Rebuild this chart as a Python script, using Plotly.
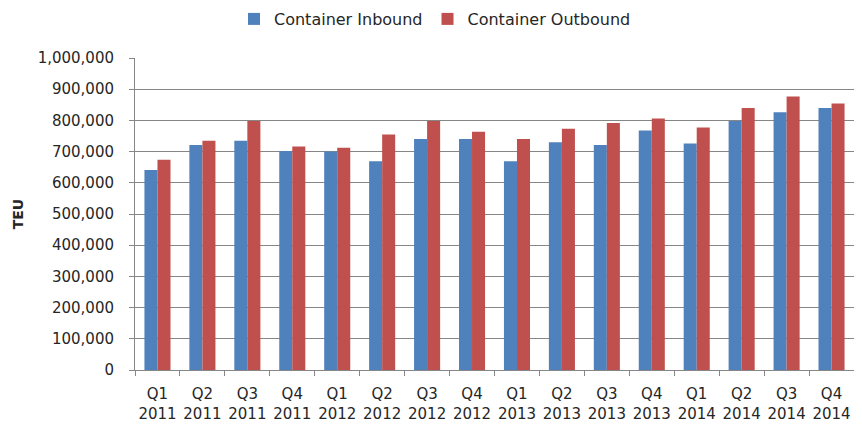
import plotly.graph_objects as go

quarters = ['Q1<br>2011', 'Q2<br>2011', 'Q3<br>2011', 'Q4<br>2011',
            'Q1<br>2012', 'Q2<br>2012', 'Q3<br>2012', 'Q4<br>2012',
            'Q1<br>2013', 'Q2<br>2013', 'Q3<br>2013', 'Q4<br>2013',
            'Q1<br>2014', 'Q2<br>2014', 'Q3<br>2014', 'Q4<br>2014']

inbound = [641000, 721000, 735000, 702000,
           700000, 669000, 740000, 740000,
           669000, 730000, 721000, 768000,
           726000, 798000, 826000, 840000]

outbound = [674000, 735000, 798000, 716000,
            712000, 755000, 798000, 764000,
            740000, 773000, 792000, 806000,
            777000, 840000, 877000, 854000]

y_ticks = list(range(0, 1000001, 100000))

fig = go.Figure()

fig.add_trace(go.Bar(
    x=quarters, y=inbound,
    name='Container Inbound',
    marker=dict(color='#4F81BD', line=dict(width=0))
))

fig.add_trace(go.Bar(
    x=quarters, y=outbound,
    name='Container Outbound',
    marker=dict(color='#C0504D', line=dict(width=0))
))

# page body has an 8px margin, so the figure is a bit smaller than the window
fig.update_layout(
    width=854, height=420,
    margin=dict(l=127, r=8, t=50, b=58, autoexpand=False),
    paper_bgcolor='white',
    plot_bgcolor='white',
    font=dict(family='DejaVu Sans', size=15, color='#262626'),
    barmode='group',
    bargap=0.42,
    bargroupgap=0,
    showlegend=True,
    legend=dict(
        orientation='h', xref='container', x=0.5, xanchor='center',
        y=1.125, yanchor='middle',
        font=dict(size=16),
        itemwidth=30,
    ),
    xaxis=dict(
        automargin=False,
        tickangle=0,
        showline=True, linecolor='#868686', linewidth=1,
        ticks='outside', tickson='boundaries', ticklen=5, tickcolor='#868686',
        ticklabelstandoff=10,
        showgrid=False,
        tickfont=dict(size=15),
    ),
    yaxis=dict(
        automargin=False,
        range=[0, 1000000],
        tickvals=y_ticks,
        tickformat=',',
        showline=True, linecolor='#868686', linewidth=1,
        ticks='outside', ticklen=5, tickcolor='#868686',
        ticklabelstandoff=12,
        showgrid=True, gridcolor='#868686', gridwidth=1,
        zeroline=False,
        title=dict(text='<b>TEU</b>', font=dict(size=14), standoff=10),
        tickfont=dict(size=15),
    ),
)

fig.write_html("out.html")
